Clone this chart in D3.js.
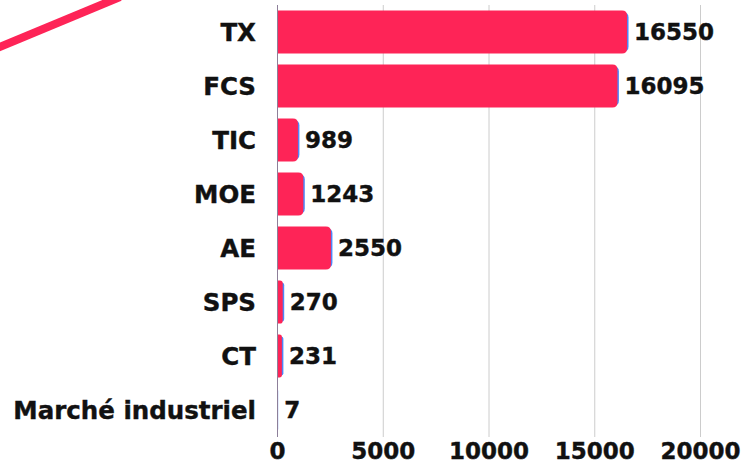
<!DOCTYPE html>
<html><head><meta charset="utf-8">
<script src="https://cdn.jsdelivr.net/npm/d3@7"></script>
<style>body{margin:0;background:#fff}svg{display:block}</style>
</head><body>
<svg id="c" width="747" height="468"></svg>
<script>
const categories = ["TX","FCS","TIC","MOE","AE","SPS","CT","Marché industriel"];
const values = [16550,16095,989,1243,2550,270,231,7];
const xTicks = [0,5000,10000,15000,20000];

const svg = d3.select("#c");
const font = "'DejaVu Sans', sans-serif";
const red = "#fe2457", blue = "#4f86f7";

const x = d3.scaleLinear().domain([0,20000]).range([277,700]);
const y = d3.scaleBand().domain(categories).range([5,437]).paddingInner(0.2).paddingOuter(0.1);

// decorative stroke
svg.append("line").attr("x1",-5).attr("y1",49).attr("x2",120).attr("y2",-3)
  .attr("stroke",red).attr("stroke-width",8);

// grid
svg.append("g").selectAll("line").data(xTicks.slice(1)).join("line")
  .attr("x1",d=>x(d)+0.5).attr("x2",d=>x(d)+0.5).attr("y1",5).attr("y2",437)
  .attr("stroke","#cccccc").attr("stroke-width",1);

function barPath(w,h,r){
  r=Math.min(r,w/2,h/2);
  return `M0,0H${w-r}Q${w},0 ${w},${r}V${h-r}Q${w},${h} ${w-r},${h}H0Z`;
}
const g = svg.append("g");
const bars = g.selectAll("g").data(categories).join("g")
  .attr("transform",d=>`translate(${x(0)},${y(d)})`);
bars.append("path").attr("d",(d,i)=>barPath(Math.max(0,x(values[i])-x(0)),y.bandwidth()-4,5))
  .attr("transform","translate(1.5,2)").attr("fill",blue);
bars.append("path").attr("d",(d,i)=>barPath(Math.max(0,x(values[i])-x(0)),y.bandwidth(),5))
  .attr("fill",red);

// axis line
svg.append("line").attr("x1",x(0)+0.5).attr("x2",x(0)+0.5).attr("y1",5).attr("y2",437)
  .attr("stroke","#8d7f99").attr("stroke-width",1);

// value labels
svg.append("g").selectAll("text").data(categories).join("text")
  .attr("x",(d,i)=>x(values[i])+7).attr("y",d=>y(d)+y.bandwidth()/2)
  .attr("dy","0.36em").attr("font-family",font).attr("font-weight","bold").attr("font-size",23)
  .attr("fill","#111").attr("stroke","#111").attr("stroke-width",0.4).text((d,i)=>values[i]);

// category labels
const yAxis = d3.axisLeft(y).tickSize(0).tickPadding(21);
const ya = svg.append("g").attr("transform",`translate(${x(0)},0)`).call(yAxis);
ya.select(".domain").remove();
ya.selectAll("text").attr("font-family",font).attr("font-weight","bold").attr("font-size",24.5)
  .attr("fill","#111").attr("stroke","#111").attr("stroke-width",0.4).attr("dy","0.36em");

// x axis
const xAxis = d3.axisBottom(x).tickValues(xTicks).tickSize(0).tickPadding(6).tickFormat(d3.format("d"));
const xa = svg.append("g").attr("transform","translate(0,437)").call(xAxis);
xa.select(".domain").remove();
xa.selectAll("text").attr("font-family",font).attr("font-weight","bold").attr("font-size",23)
  .attr("fill","#111").attr("stroke","#111").attr("stroke-width",0.4);
</script>
</body></html>
